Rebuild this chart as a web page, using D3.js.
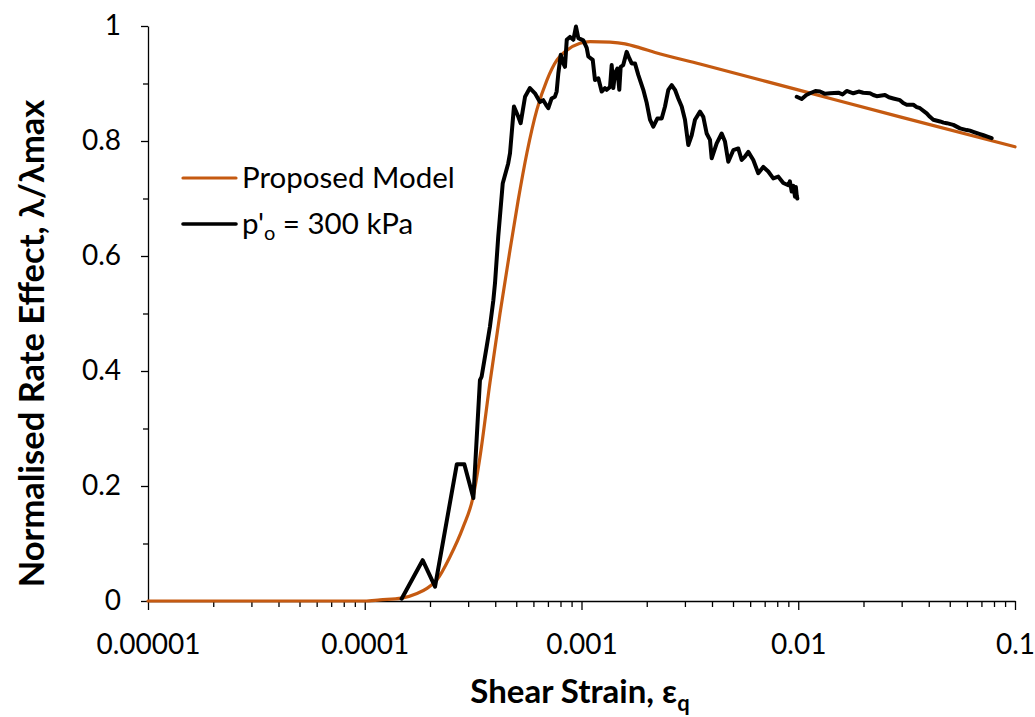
<!DOCTYPE html>
<html>
<head>
<meta charset="utf-8">
<script src="https://cdn.jsdelivr.net/npm/d3@7/dist/d3.min.js"></script>
<style>
  html, body { margin: 0; padding: 0; background: #fff; }
  svg { display: block; font-family: Lato, "Open Sans", sans-serif; }
</style>
</head>
<body>
<svg id="chart" width="1035" height="717"></svg>
<script>
// Proposed model curve (strain, normalised rate effect)
const modelStrain = [1e-5, 1e-4, 1.176e-4, 1.479e-4, 1.742e-4, 1.937e-4, 2.154e-4, 2.473e-4, 2.840e-4,
  3.157e-4, 3.400e-4, 3.782e-4, 4.207e-4, 4.677e-4, 5.093e-4, 5.604e-4, 6.231e-4, 6.928e-4,
  7.709e-4, 8.572e-4, 9.842e-4, 1.095e-3, 1.354e-3, 1.588e-3, 1.862e-3, 2.183e-3, 3.522e-3, 1.019e-2,
  2.947e-2, 0.1];
const modelValue = [0, 0, 0.002, 0.005, 0.013, 0.022, 0.037, 0.077, 0.128,
  0.180, 0.250, 0.380, 0.500, 0.610, 0.695, 0.780, 0.855, 0.906,
  0.941, 0.958, 0.970, 0.973, 0.972, 0.969, 0.962, 0.954, 0.934, 0.888,
  0.842, 0.790];

// Test data, p'o = 300 kPa (null marks the gap between the two logged stages)
const testStrain = [1.48e-4, 1.85e-4, 2.11e-4, 2.66e-4, 2.88e-4, 3.17e-4, 3.40e-4, 3.46e-4, 3.65e-4,
  3.78e-4, 3.92e-4, 3.99e-4, 4.13e-4, 4.33e-4, 4.59e-4, 4.68e-4, 4.88e-4, 5.11e-4, 5.24e-4, 5.49e-4,
  5.78e-4, 6.10e-4, 6.43e-4, 6.66e-4, 6.86e-4, 7.03e-4, 7.28e-4, 7.54e-4, 7.68e-4, 7.82e-4, 8.02e-4,
  8.24e-4, 8.39e-4, 8.55e-4, 8.85e-4, 9.17e-4, 9.43e-4, 9.67e-4, 1.019e-3, 1.057e-3, 1.075e-3,
  1.127e-3, 1.154e-3, 1.196e-3, 1.239e-3, 1.283e-3, 1.307e-3, 1.354e-3, 1.378e-3, 1.402e-3, 1.428e-3,
  1.463e-3, 1.494e-3, 1.516e-3, 1.558e-3, 1.616e-3, 1.661e-3, 1.704e-3, 1.765e-3, 1.828e-3, 1.928e-3,
  2.000e-3, 2.070e-3, 2.144e-3, 2.237e-3, 2.344e-3, 2.428e-3, 2.515e-3, 2.607e-3, 2.700e-3, 2.796e-3,
  2.899e-3, 3.002e-3, 3.110e-3, 3.224e-3, 3.339e-3, 3.522e-3, 3.647e-3, 3.781e-3, 3.916e-3, 3.987e-3,
  4.204e-3, 4.433e-3, 4.592e-3, 4.756e-3, 5.015e-3, 5.289e-3, 5.483e-3, 5.678e-3, 5.882e-3, 6.202e-3,
  6.540e-3, 6.898e-3, 7.272e-3, 7.669e-3, 8.091e-3, 8.531e-3, 8.997e-3, 9.15e-3, 9.33e-3, 9.50e-3,
  9.66e-3, 9.75e-3, 9.84e-3, 9.90e-3,
  null,
  9.84e-3, 1.037e-2, 1.090e-2, 1.133e-2, 1.200e-2, 1.260e-2, 1.330e-2, 1.401e-2, 1.530e-2, 1.600e-2,
  1.673e-2, 1.795e-2, 1.900e-2, 1.995e-2, 2.143e-2, 2.220e-2, 2.301e-2, 2.513e-2, 2.620e-2, 2.745e-2,
  2.947e-2, 3.050e-2, 3.165e-2, 3.396e-2, 3.520e-2, 3.646e-2, 3.914e-2, 4.050e-2, 4.198e-2, 4.508e-2,
  4.680e-2, 4.840e-2, 5.193e-2, 5.380e-2, 5.576e-2, 5.987e-2, 6.200e-2, 6.421e-2, 6.895e-2, 7.150e-2,
  7.403e-2, 7.806e-2];
const testValue = [0.004, 0.071, 0.025, 0.238, 0.238, 0.179, 0.384, 0.390, 0.442,
  0.477, 0.523, 0.553, 0.634, 0.726, 0.761, 0.779, 0.860, 0.842, 0.831, 0.877,
  0.892, 0.883, 0.868, 0.871, 0.863, 0.857, 0.874, 0.877, 0.886, 0.918, 0.950,
  0.935, 0.929, 0.976, 0.981, 0.976, 0.999, 0.979, 0.975, 0.962, 0.947,
  0.941, 0.906, 0.909, 0.886, 0.892, 0.889, 0.894, 0.932, 0.892, 0.918,
  0.926, 0.889, 0.929, 0.932, 0.955, 0.944, 0.935, 0.935, 0.915, 0.889,
  0.866, 0.837, 0.825, 0.839, 0.839, 0.860, 0.889, 0.897, 0.889, 0.874,
  0.860, 0.837, 0.793, 0.810, 0.837, 0.851, 0.842, 0.813, 0.802, 0.770,
  0.796, 0.813, 0.799, 0.764, 0.784, 0.787, 0.767, 0.773, 0.781, 0.767,
  0.744, 0.755, 0.747, 0.735, 0.738, 0.727, 0.723, 0.730, 0.712, 0.722,
  0.703, 0.720, 0.705, 0.700,
  null,
  0.877, 0.873, 0.880, 0.883, 0.887, 0.886, 0.882, 0.883, 0.884, 0.881,
  0.887, 0.883, 0.886, 0.884, 0.883, 0.880, 0.878, 0.880, 0.876, 0.874,
  0.871, 0.866, 0.863, 0.863, 0.859, 0.857, 0.848, 0.842, 0.837, 0.834,
  0.832, 0.831, 0.828, 0.825, 0.822, 0.819, 0.818, 0.816, 0.812, 0.810,
  0.808, 0.805];

// Axis ticks
const xMajorTicks = [1e-5, 1e-4, 1e-3, 1e-2, 1e-1];
const xTickLabels = ["0.00001", "0.0001", "0.001", "0.01", "0.1"];
const yMajorTicks = [0, 0.2, 0.4, 0.6, 0.8, 1];
const yTickLabels = ["0", "0.2", "0.4", "0.6", "0.8", "1"];
const yMinorTicks = [0.1, 0.3, 0.5, 0.7, 0.9];

const modelColor = "#C55A11";
const testColor = "#000000";
const fontFamily = "Lato, sans-serif";

const svg = d3.select("#chart");
const margin = { left: 148, top: 26, right: 20, bottom: 116 };
const W = 1035, H = 717;

const x = d3.scaleLog().domain([1e-5, 0.1]).range([margin.left, W - margin.right]);
const y = d3.scaleLinear().domain([0, 1]).range([H - margin.bottom, margin.top]);

const xMinorTicks = [];
for (let d = 0; d < 4; d++) {
  for (let k = 2; k <= 9; k++) xMinorTicks.push(k * xMajorTicks[d]);
}

// Minor ticks
svg.append("g")
  .attr("transform", `translate(0,${y(0)})`)
  .call(d3.axisBottom(x).tickValues(xMinorTicks).tickSize(6).tickFormat("").tickSizeOuter(0))
  .call(g => g.select(".domain").remove())
  .call(g => g.selectAll("line").attr("stroke", "#000").attr("stroke-width", 1.3));

svg.append("g")
  .attr("transform", `translate(${x(1e-5)},0)`)
  .call(d3.axisLeft(y).tickValues(yMinorTicks).tickSize(5).tickFormat("").tickSizeOuter(0))
  .call(g => g.select(".domain").remove())
  .call(g => g.selectAll("line").attr("stroke", "#000").attr("stroke-width", 1.3));

// Major axes
const xAxis = svg.append("g")
  .attr("transform", `translate(0,${y(0)})`)
  .call(d3.axisBottom(x).tickValues(xMajorTicks).tickSize(9).tickSizeOuter(0)
    .tickFormat((d, i) => xTickLabels[i]));
xAxis.select(".domain").attr("stroke", "#000").attr("stroke-width", 1.3);
xAxis.selectAll("line").attr("stroke", "#000").attr("stroke-width", 1.3);
xAxis.selectAll("text")
  .attr("font-family", fontFamily)
  .attr("font-size", 28)
  .attr("fill", "#000")
  .attr("y", 33)
  .attr("dy", "0.71em");

const yAxis = svg.append("g")
  .attr("transform", `translate(${x(1e-5)},0)`)
  .call(d3.axisLeft(y).tickValues(yMajorTicks).tickSize(7).tickSizeOuter(0)
    .tickFormat((d, i) => yTickLabels[i]));
yAxis.select(".domain").attr("stroke", "#000").attr("stroke-width", 1.3);
yAxis.selectAll("line").attr("stroke", "#000").attr("stroke-width", 1.3);
yAxis.selectAll("text")
  .attr("font-family", fontFamily)
  .attr("font-size", 28)
  .attr("fill", "#000")
  .attr("x", -27);

// Series
const modelData = modelStrain.map((s, i) => ({ s, v: modelValue[i] }));
const testData = testStrain.map((s, i) => ({ s, v: testValue[i] }));

const modelLine = d3.line()
  .x(d => x(d.s)).y(d => y(d.v))
  .curve(d3.curveMonotoneX);

const testLine = d3.line()
  .defined(d => d.s !== null && d.v !== null)
  .x(d => x(d.s)).y(d => y(d.v));

svg.append("path")
  .datum(modelData)
  .attr("d", modelLine)
  .attr("fill", "none")
  .attr("stroke", modelColor)
  .attr("stroke-width", 3.2)
  .attr("stroke-linejoin", "round")
  .attr("stroke-linecap", "round");

svg.append("path")
  .datum(testData)
  .attr("d", testLine)
  .attr("fill", "none")
  .attr("stroke", testColor)
  .attr("stroke-width", 4)
  .attr("stroke-linejoin", "round")
  .attr("stroke-linecap", "round");

// Legend
const legend = svg.append("g").attr("font-family", fontFamily).attr("font-size", 29.5);
const legendItems = [
  { color: modelColor, y: 178, w: 3.2 },
  { color: testColor, y: 224, w: 3.6 }
];
legendItems.forEach(it => {
  legend.append("line")
    .attr("x1", 183).attr("x2", 236).attr("y1", it.y).attr("y2", it.y)
    .attr("stroke", it.color).attr("stroke-width", it.w).attr("stroke-linecap", "round");
});
legend.append("text").attr("x", 242).attr("y", 178).attr("dy", "0.35em").text("Proposed Model");
const t2 = legend.append("text").attr("x", 242).attr("y", 224).attr("dy", "0.35em");
t2.append("tspan").text("p'");
t2.append("tspan").attr("font-size", 20).attr("dy", 6).text("o");
t2.append("tspan").attr("dy", -6).text(" = 300 kPa");

// Axis titles
const xt = svg.append("text")
  .attr("x", 580).attr("y", 703)
  .attr("text-anchor", "middle")
  .attr("font-family", fontFamily)
  .attr("font-weight", "bold")
  .attr("font-size", 33);
xt.append("tspan").text("Shear Strain, ε");
xt.append("tspan").attr("font-size", 22).attr("dy", 8).text("q");

svg.append("text")
  .attr("transform", `translate(44,${(y(0) + y(1)) / 2 + 30}) rotate(-90)`)
  .attr("text-anchor", "middle")
  .attr("font-family", fontFamily)
  .attr("font-weight", "bold")
  .attr("font-size", 34.5)
  .text("Normalised Rate Effect, λ/λmax");
</script>
</body>
</html>
